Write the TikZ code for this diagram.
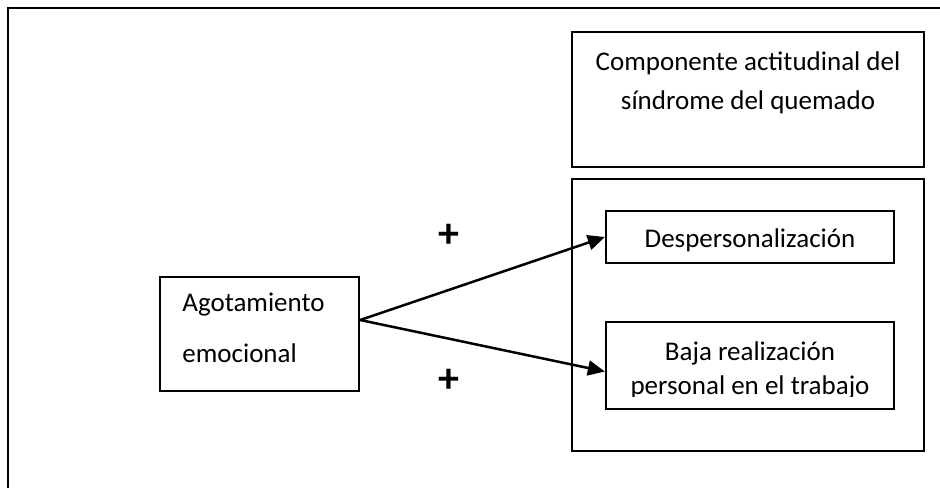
\documentclass[tikz,border=0pt]{standalone}
\usepackage{fontspec}
\setmainfont{Carlito}
\usetikzlibrary{arrows.meta}
\begin{document}
\begin{tikzpicture}[x=0.5pt,y=-0.5pt,
  box/.style={draw, line width=1.15pt, inner sep=0pt, rectangle},
  txt/.style={inner sep=0pt, font=\fontsize{13.5}{16}\selectfont},
  link/.style={line width=1.25pt, -{Triangle[length=8.5pt,width=7.5pt]}},
  sign/.style={inner sep=0pt, font=\fontsize{21}{22}\selectfont\bfseries}]
\useasboundingbox (0,0) rectangle (940,488);
% page frame (only its top and left sides fall inside the picture)
\draw[line width=1.4pt] (8,488) -- (8,8) -- (940,8);

% boxes
\node[box, minimum width=176pt, minimum height=67.5pt] (comp) at (748,99.5) {};
\node[box, minimum width=176pt, minimum height=136pt] (group) at (748,315) {};
\node[box, minimum width=144pt, minimum height=26pt] (desp) at (750,237) {};
\node[box, minimum width=144pt, minimum height=43.5pt] (baja) at (750,365.5) {};
\node[box, minimum width=99.5pt, minimum height=57pt] (agot) at (259.5,334) {};

% texts
\node[txt, anchor=base] (comp1) at (748,70) {Componente actitudinal del};
\node[txt, anchor=base] (comp2) at (748,109) {síndrome del quemado};
\node[txt, anchor=base] (desptxt) at (750,247) {Despersonalización};
\node[txt, anchor=base] (baja1) at (750,360) {Baja realización};
\begin{scope}
  \clip (606,322) rectangle (894,396.5);
  \node[txt, anchor=base] (baja2) at (750,394) {personal en el trabajo};
\end{scope}
\node[txt, anchor=base west] (agot1) at (182,311) {Agotamiento};
\node[txt, anchor=base west] (agot2) at (182,362) {emocional};

% connectors
\coordinate (fork) at ([yshift=7pt]agot.east);
\draw[link] (fork) -- (desp.west);
\draw[link] (fork) -- ([yshift=-3pt]baja.west);

% signs
\node[sign] (plusA) at (449,236) {+};
\node[sign] (plusB) at (449,381) {+};
\end{tikzpicture}
\end{document}
